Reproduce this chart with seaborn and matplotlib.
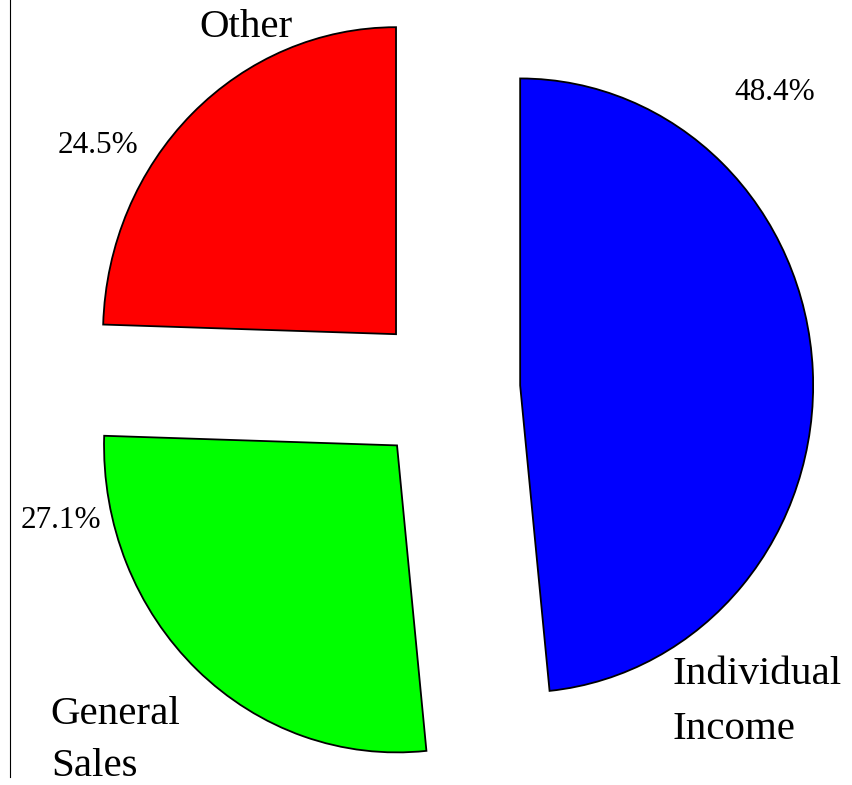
"""Exploded pie of revenue sources, Times-style labels."""

import matplotlib

matplotlib.use("Agg")
import matplotlib.pyplot as plt
import seaborn as sns

categories = ["Individual\nIncome", "General\nSales", "Other"]
shares = [48.4, 27.1, 24.5]
colors = ["#0000FF", "#00FF00", "#FF0000"]

# text anchors in data units (left, baseline of last line)
label_pos = [(0.771, -1.140), (-1.352, -1.260), (-0.846, 1.149)]
label_spacing = [1.67, 1.55, 1.2]
pct_pos = [(0.980, 0.942), (-1.454, -0.452), (-1.328, 0.770)]

sns.set_style("white")
plt.rcParams["font.family"] = ["Liberation Serif", "DejaVu Serif"]

fig = plt.figure(figsize=(8.53, 7.85), dpi=100)
ax = fig.add_axes([10 / 853, 8 / 785, 843 / 853, 777 / 785])

wedges, texts, autotexts = ax.pie(
    shares,
    labels=categories,
    colors=colors,
    explode=[0.25] * len(shares),
    startangle=90,
    counterclock=False,
    autopct="%1.1f%%",
    frame=True,
    wedgeprops=dict(edgecolor="black", linewidth=1.3),
)
ax.set_aspect("auto")
ax.set_xlim(-1.4915, 1.3857)
ax.set_ylim(-1.2629, 1.2681)
ax.set_xticks([])
ax.set_yticks([])
sns.despine(ax=ax, top=True, right=True, bottom=True, left=False)
ax.spines["left"].set_color("black")
ax.spines["left"].set_linewidth(0.8)

for t, (x, y), ls in zip(texts, label_pos, label_spacing):
    t.set_position((x, y))
    t.set(ha="left", va="baseline", fontsize=29.5, linespacing=ls, color="black")

for t, (x, y) in zip(autotexts, pct_pos):
    t.set_position((x, y))
    t.set(ha="left", va="baseline", fontsize=22.5, color="black")

fig.savefig("out.png", dpi=100)
